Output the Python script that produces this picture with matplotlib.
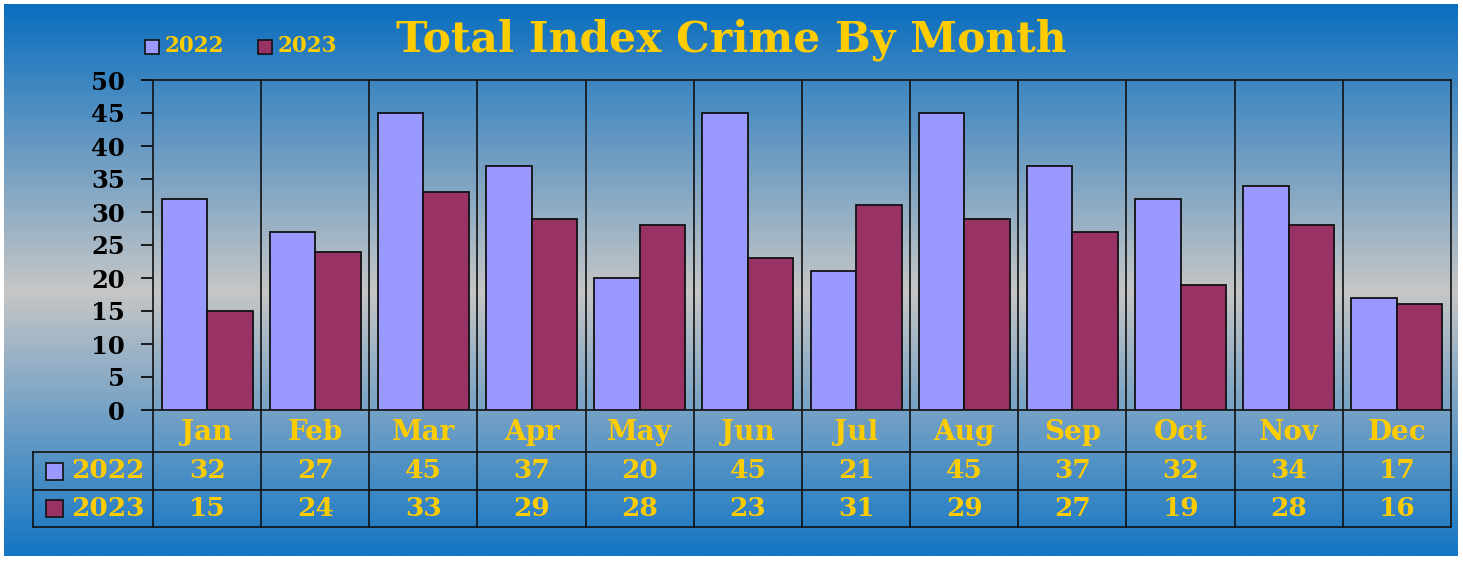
import matplotlib
matplotlib.use('Agg')
import matplotlib.pyplot as plt
import numpy as np
from matplotlib.colors import LinearSegmentedColormap
from matplotlib.patches import Rectangle
import matplotlib.transforms as mtransforms

months = ['Jan', 'Feb', 'Mar', 'Apr', 'May', 'Jun', 'Jul', 'Aug', 'Sep', 'Oct', 'Nov', 'Dec']
crimes_2022 = [32, 27, 45, 37, 20, 45, 21, 45, 37, 32, 34, 17]
crimes_2023 = [15, 24, 33, 29, 28, 23, 31, 29, 27, 19, 28, 16]
series_names = ['2022', '2023']
colors = ['#9999ff', '#993366']
gold = '#ffcc00'

plt.rcParams['font.family'] = ['DejaVu Serif']
plt.rcParams['font.weight'] = 'bold'

W, H = 1463, 561
fig = plt.figure(figsize=(W / 100, H / 100), dpi=100)
fig.patch.set_facecolor('white')

# gradient background (blue -> grey -> blue)
bg = fig.add_axes([4 / W, 5 / H, (W - 9) / W, (H - 9) / H])
bg.set_axis_off()
cmap = LinearSegmentedColormap.from_list('bg', [(0.0, '#0a6ebf'), (0.52, '#c6c6c6'), (1.0, '#1476c4')])
grad = np.linspace(0, 1, 256).reshape(-1, 1)
bg.imshow(grad, aspect='auto', cmap=cmap, extent=[0, 1, 0, 1], origin='upper')
bg.set_zorder(-5)

# main plot area
left, right, top, bottom = 153, 1451, 80, 410
ax = fig.add_axes([left / W, 1 - bottom / H, (right - left) / W, (bottom - top) / H])
ax.patch.set_alpha(0)

x = np.arange(len(months))
bw = 0.42
ax.bar(x - bw / 2, crimes_2022, bw, color=colors[0], edgecolor='#111111', linewidth=1.3, zorder=3)
ax.bar(x + bw / 2, crimes_2023, bw, color=colors[1], edgecolor='#111111', linewidth=1.3, zorder=3)

ax.set_xlim(-0.5, len(months) - 0.5)
ax.set_ylim(0, 50)
ax.set_yticks(range(0, 51, 5))
ax.tick_params(axis='y', direction='out', length=9, width=1.2, labelsize=17.5, pad=11)
ax.tick_params(axis='x', bottom=False, labelbottom=False)
for lab in ax.get_yticklabels():
    lab.set_fontweight('bold')
for s in ax.spines.values():
    s.set_color('#111111')
    s.set_linewidth(1.2)

# table below plot
trans = mtransforms.blended_transform_factory(ax.transData, ax.transAxes)
ph = bottom - top
r0, r1, r2, r3 = 0, -42 / ph, -80 / ph, -117 / ph
xl = -0.5 - (left - 33) / ((right - left) / len(months))
xr = len(months) - 0.5
lc = '#111111'
for xv in np.arange(0.5, len(months) - 0.5, 1):
    ax.plot([xv, xv], [r3, 1], transform=trans, color=lc, lw=1.2, clip_on=False, zorder=2)
ax.plot([-0.5, -0.5], [r3, 0], transform=trans, color=lc, lw=1.2, clip_on=False)
ax.plot([xr, xr], [r3, 0], transform=trans, color=lc, lw=1.2, clip_on=False)
ax.plot([xl, xl], [r3, r1], transform=trans, color=lc, lw=1.2, clip_on=False)
for yv in [r1, r2, r3]:
    ax.plot([xl, xr], [yv, yv], transform=trans, color=lc, lw=1.2, clip_on=False)

for i, m in enumerate(months):
    ax.text(i, (r0 + r1) / 2 - 0.005, m, transform=trans, ha='center', va='center',
            color=gold, fontsize=20, fontweight='bold', clip_on=False)
    ax.text(i, (r1 + r2) / 2, str(crimes_2022[i]), transform=trans, ha='center', va='center',
            color=gold, fontsize=19, fontweight='bold', clip_on=False)
    ax.text(i, (r2 + r3) / 2, str(crimes_2023[i]), transform=trans, ha='center', va='center',
            color=gold, fontsize=19, fontweight='bold', clip_on=False)

sq = 17 / ((right - left) / len(months))
for (ya, yb), name, c in zip([(r1, r2), (r2, r3)], series_names, colors):
    ym = (ya + yb) / 2
    ax.add_patch(Rectangle((xl + 13 / 108.2, ym - 8.5 / ph), sq, 17 / ph, transform=trans,
                           facecolor=c, edgecolor='#111111', lw=1.2, clip_on=False))
    ax.text(xl + 38 / 108.2, ym, name, transform=trans, ha='left', va='center',
            color=gold, fontsize=19, fontweight='bold', clip_on=False)

# legend at top left
for xp, name, c in zip([145, 258], series_names, colors):
    fig.patches.append(Rectangle((xp / W, 1 - 54 / H), 14 / W, 14 / H, transform=fig.transFigure,
                                 facecolor=c, edgecolor='#111111', lw=1.2))
    fig.text((xp + 20) / W, 1 - 46 / H, name, ha='left', va='center',
             color=gold, fontsize=15.5, fontweight='bold')

fig.text(0.5, 1 - 40 / H, 'Total Index Crime By Month', ha='center', va='center',
         color=gold, fontsize=30.5, fontweight='bold')

fig.savefig('out.png', dpi=100)
